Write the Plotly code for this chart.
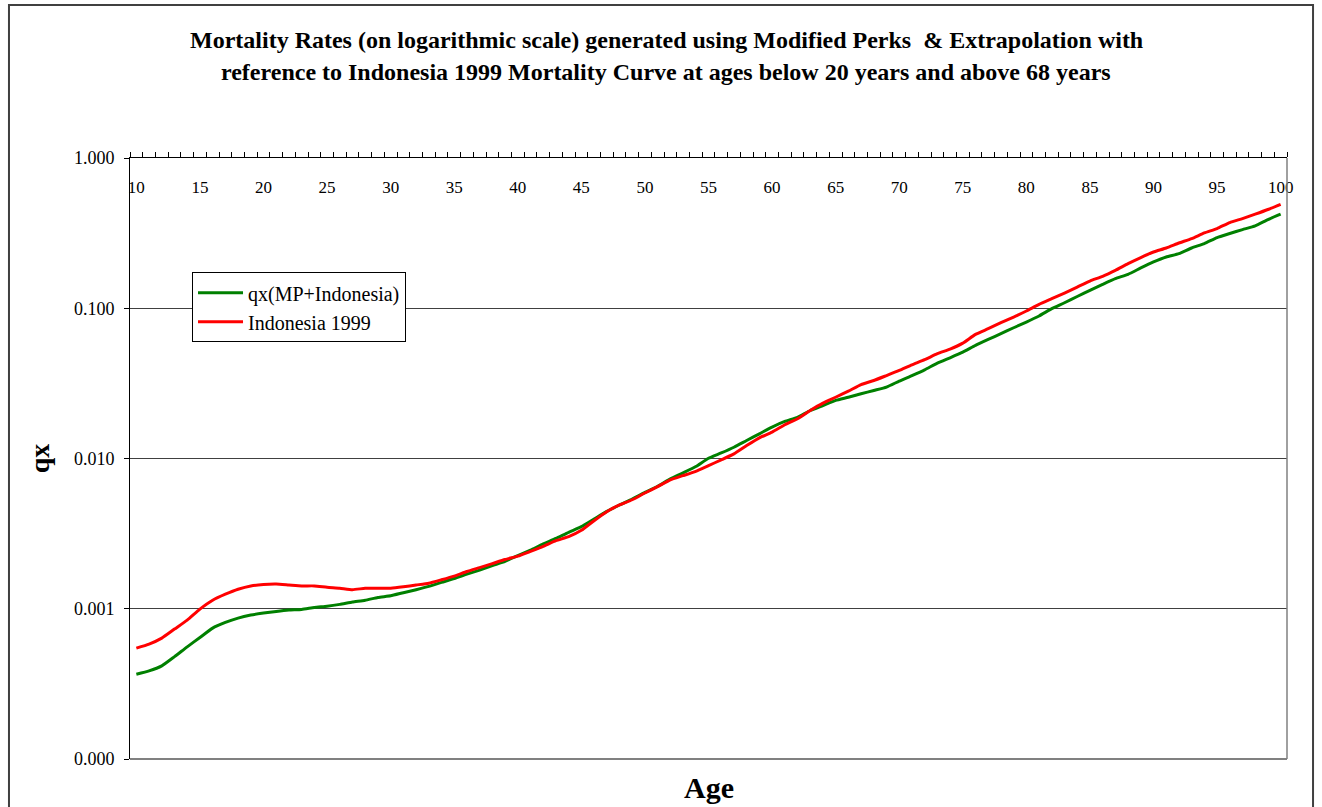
import plotly.graph_objects as go

# Ages covered by the mortality table
ages = list(range(10, 101))

# qx from Modified Perks graduation blended with Indonesia 1999
qx_mp_indonesia = [
    0.000367, 0.000386, 0.000417, 0.000480, 0.000558, 0.000644, 0.000744, 0.000811, 0.000867, 0.000908,
    0.000936, 0.000960, 0.000980, 0.000990, 0.001020, 0.001040, 0.001070, 0.001110, 0.001140, 0.001190,
    0.001220, 0.001280, 0.001340, 0.001410, 0.001500, 0.001590, 0.001700, 0.001810, 0.001940, 0.002070,
    0.002260, 0.002460, 0.002700, 0.002940, 0.003230, 0.003520, 0.003960, 0.004450, 0.004910, 0.005380,
    0.005960, 0.006540, 0.007320, 0.008030, 0.008850, 0.010050, 0.010900, 0.011900, 0.013200, 0.014620,
    0.016200, 0.017660, 0.018800, 0.020900, 0.022560, 0.024400, 0.025600, 0.027000, 0.028400, 0.029900,
    0.032800, 0.035700, 0.039000, 0.043200, 0.046900, 0.051100, 0.056700, 0.062100, 0.067800, 0.074300,
    0.081100, 0.089000, 0.099500, 0.109000, 0.120000, 0.131800, 0.144500, 0.157800, 0.168600, 0.185800,
    0.203700, 0.219900, 0.231300, 0.252300, 0.270000, 0.296000, 0.315000, 0.334600, 0.354000, 0.390000,
    0.423600,
]

# Indonesia 1999 mortality curve
qx_indonesia_1999 = [
    0.000547, 0.000582, 0.000638, 0.000733, 0.000840, 0.000995, 0.001140, 0.001250, 0.001350, 0.001420,
    0.001450, 0.001460, 0.001440, 0.001420, 0.001420, 0.001390, 0.001370, 0.001340, 0.001370, 0.001370,
    0.001370, 0.001400, 0.001440, 0.001480, 0.001560, 0.001650, 0.001770, 0.001880, 0.002000, 0.002130,
    0.002240, 0.002410, 0.002600, 0.002840, 0.003020, 0.003330, 0.003860, 0.004430, 0.004910, 0.005320,
    0.005900, 0.006500, 0.007220, 0.007700, 0.008230, 0.008980, 0.009800, 0.010740, 0.012200, 0.013750,
    0.015000, 0.016800, 0.018400, 0.020900, 0.023400, 0.025600, 0.028100, 0.031100, 0.033100, 0.035700,
    0.038600, 0.042100, 0.045500, 0.049900, 0.053500, 0.058700, 0.067100, 0.073200, 0.080300, 0.087500,
    0.096000, 0.106400, 0.116000, 0.126500, 0.138700, 0.152000, 0.163400, 0.179000, 0.198600, 0.218000,
    0.237300, 0.252300, 0.272300, 0.291500, 0.317700, 0.340000, 0.372500, 0.396000, 0.423600, 0.455000,
    0.493000,
]

# Axis labelling
x_tick_ages = list(range(10, 101, 5))
x_tick_text = [str(a) for a in x_tick_ages]
y_tick_vals = [0.0001, 0.001, 0.01, 0.1, 1.0]
y_tick_text = ["0.000", "0.001", "0.010", "0.100", "1.000"]

title_line1 = "Mortality Rates (on logarithmic scale) generated using Modified Perks  &amp; Extrapolation with"
title_line2 = "reference to Indonesia 1999 Mortality Curve at ages below 20 years and above 68 years"

SERIF = "Liberation Serif, Times New Roman, Times, serif"
AGE_RANGE = [9.5, 100.5]

fig = go.Figure()
fig.add_trace(go.Scatter(
    x=ages, y=qx_mp_indonesia, mode="lines", name="qx(MP+Indonesia)",
    xaxis="x", yaxis="y",
    line=dict(color="#008000", width=3, shape="spline", smoothing=0.5),
))
# the 1999 curve sits on the overlaid age axis (same range) so it draws on top
fig.add_trace(go.Scatter(
    x=ages, y=qx_indonesia_1999, mode="lines", name="Indonesia 1999",
    xaxis="x2", yaxis="y",
    line=dict(color="#FF0000", width=3, shape="spline", smoothing=0.5),
))

fig.update_layout(
    width=1322, height=807,
    margin=dict(l=130, r=35, t=158, b=48),
    paper_bgcolor="white", plot_bgcolor="white",
    font=dict(family=SERIF, size=16, color="black"),
    showlegend=True,
    legend=dict(
        x=0.0536, y=0.81, xanchor="left", yanchor="top",
        bgcolor="white", bordercolor="black", borderwidth=1,
        font=dict(family=SERIF, size=20, color="black"),
        tracegroupgap=0, itemwidth=45,
    ),
    # top axis line with a tick at every category boundary
    xaxis=dict(
        side="top", range=AGE_RANGE,
        showticklabels=False, ticks="",
        showline=True, linecolor="black", linewidth=1,
        showgrid=False, zeroline=False,
        minor=dict(tickmode="linear", tick0=9.5, dtick=1, ticks="outside",
                   ticklen=5, tickcolor="black", tickwidth=1, showgrid=False),
    ),
    # age labels sitting just under the top edge of the plot
    xaxis2=dict(
        overlaying="x", side="bottom", anchor="free", position=0.972,
        range=AGE_RANGE,
        tickmode="array", tickvals=x_tick_ages, ticktext=x_tick_text,
        ticks="", showline=False, showgrid=False, zeroline=False,
        tickfont=dict(family=SERIF, size=17, color="black"),
    ),
    yaxis=dict(
        type="log", range=[-4, 0.001],
        tickmode="array", tickvals=y_tick_vals, ticktext=y_tick_text,
        ticks="outside", ticklen=5, tickcolor="black", tickwidth=1,
        ticklabelstandoff=6,
        tickfont=dict(family=SERIF, size=18, color="black"),
        showline=True, linecolor="black", linewidth=1,
        showgrid=True, gridcolor="#404040", gridwidth=1,
        zeroline=False,
        title=dict(text="<b>qx</b>", font=dict(family=SERIF, size=28, color="black"), standoff=16),
    ),
    shapes=[
        # plot-area frame on the right and bottom
        dict(type="line", xref="paper", yref="paper", x0=0, x1=1, y0=0, y1=0,
             line=dict(color="#808080", width=2)),
        dict(type="line", xref="paper", yref="paper", x0=1, x1=1, y0=0, y1=1,
             line=dict(color="#808080", width=1.5)),
        # chart frame
        dict(type="rect", xref="paper", yref="paper",
             x0=-0.1046, x1=1.0225, y0=-0.1, y1=1.2546,
             line=dict(color="#404040", width=2)),
    ],
    annotations=[
        dict(text="<b>" + title_line1 + "</b>", xref="paper", yref="paper",
             x=0.4633, y=1.1963, xanchor="center", yanchor="middle", showarrow=False,
             font=dict(family=SERIF, size=24, color="black")),
        dict(text="<b>" + title_line2 + "</b>", xref="paper", yref="paper",
             x=0.4633, y=1.1431, xanchor="center", yanchor="middle", showarrow=False,
             font=dict(family=SERIF, size=24, color="black")),
        dict(text="<b>Age</b>", xref="paper", yref="paper",
             x=0.5, y=-0.0466, xanchor="center", yanchor="middle", showarrow=False,
             font=dict(family=SERIF, size=30, color="black")),
    ],
)

fig.write_html("out.html")
